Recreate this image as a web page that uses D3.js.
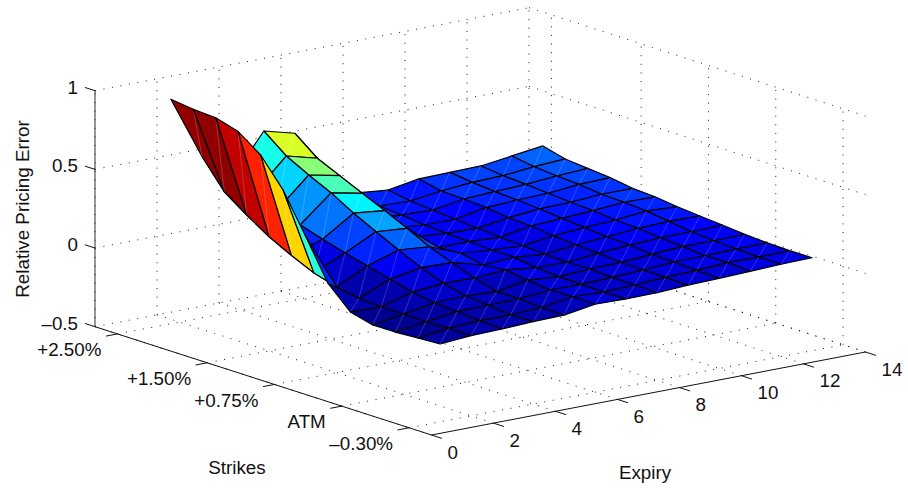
<!DOCTYPE html>
<html>
<head>
<meta charset="utf-8">
<script src="https://cdn.jsdelivr.net/npm/d3@7"></script>
<style>
  html, body { margin: 0; padding: 0; background: #fff; }
  svg { display: block; }
  text { font-family: "Liberation Sans", Arial, sans-serif; fill: #111; }
</style>
</head>
<body>
<div id="chart"></div>
<script>
const expiries = [1, 2, 3, 4, 5, 6, 7, 8, 9, 10, 11, 12, 13];
const strikes = [1, 2, 3, 4, 5, 6, 7, 8, 9, 10, 11, 12, 13];

const expiryTicks = [0, 2, 4, 6, 8, 10, 12, 14];
const strikeTicks = [14, 10, 7, 4, 1];
const strikeLabels = ["+2.50%", "+1.50%", "+0.75%", "ATM", "\u20130.30%"];
const zTicks = [-0.5, 0, 0.5, 1];
const zLabels = ["\u20130.5", "0", "0.5", "1"];

// one row per expiry (1 to 13), one value per strike position (1 to 13)
const errorByExpiry = [
  [-0.005, -0.013, -0.021, -0.022, 0.015, 0.152, 0.406, 0.653, 0.829, 0.932, 0.974, 0.982, 1.0],
  [0.01, 0.011, 0.007, 0.01, 0.01, 0.018, 0.046, 0.087, 0.152, 0.226, 0.318, 0.42, 0.6],
  [0.015, 0.022, 0.033, 0.044, 0.066, 0.101, 0.14, 0.176, 0.218, 0.263, 0.316, 0.381, 0.43],
  [0.024, 0.02, 0.038, 0.049, 0.084, 0.138, 0.204, 0.274, 0.346, 0.429, 0.497, 0.572, 0.685],
  [0.028, 0.03, 0.04, 0.039, 0.08, 0.132, 0.187, 0.258, 0.325, 0.389, 0.455, 0.52, 0.633],
  [0.059, 0.061, 0.058, 0.075, 0.093, 0.079, 0.108, 0.098, 0.121, 0.13, 0.14, 0.15, 0.17],
  [0.055, 0.053, 0.056, 0.059, 0.07, 0.09, 0.091, 0.098, 0.105, 0.112, 0.13, 0.141, 0.178],
  [0.057, 0.06, 0.063, 0.07, 0.067, 0.072, 0.08, 0.088, 0.1, 0.111, 0.124, 0.135, 0.159],
  [0.068, 0.071, 0.072, 0.075, 0.086, 0.093, 0.106, 0.122, 0.129, 0.147, 0.156, 0.161, 0.192],
  [0.073, 0.078, 0.085, 0.088, 0.101, 0.108, 0.12, 0.133, 0.147, 0.158, 0.165, 0.178, 0.196],
  [0.08, 0.089, 0.087, 0.099, 0.11, 0.124, 0.131, 0.144, 0.152, 0.163, 0.174, 0.183, 0.199],
  [0.087, 0.087, 0.092, 0.099, 0.11, 0.13, 0.15, 0.16, 0.165, 0.182, 0.189, 0.2025, 0.225],
  [0.091, 0.09, 0.094, 0.102, 0.115, 0.127, 0.14, 0.157, 0.165, 0.187, 0.2, 0.214, 0.251]
];

const width = 908;
const height = 489;

// the box is an orthographic view: each data axis is a straight screen offset
const origin = { x: 431.5, y: 435 };
const exX = d3.scaleLinear().domain([0, 14]).range([0, 434]);
const exY = d3.scaleLinear().domain([0, 14]).range([0, -83]);
const stX = d3.scaleLinear().domain([0, 15]).range([0, -336.5]);
const stY = d3.scaleLinear().domain([0, 15]).range([0, -108.3]);
const zY = d3.scaleLinear().domain([-0.5, 1]).range([0, -236]);

const px = (e, s) => origin.x + exX(e) + stX(s);
const py = (e, s, z) => origin.y + exY(e) + stY(s) + zY(z);
const pt = (e, s, z) => [px(e, s), py(e, s, z)];

// jet colormap
const allZ = errorByExpiry.flat();
const jetStops = [0, 0.125, 0.375, 0.625, 0.875, 1];
const jetColors = ["#000090", "#0000ff", "#00ffff", "#ffff00", "#ff0000", "#800000"];
const zNorm = d3.scaleLinear().domain(d3.extent(allZ)).range([0, 1]);
const jet = d3.scaleLinear().domain(jetStops).range(jetColors);
const faceColor = z => jet(Math.floor(zNorm(z) * 63.999) / 63);

const svg = d3.select("#chart").append("svg")
  .attr("width", width)
  .attr("height", height);

const seg = (g, a, b, cls) => g.append("line")
  .attr("x1", a[0]).attr("y1", a[1])
  .attr("x2", b[0]).attr("y2", b[1])
  .attr("class", cls);

// Grid
const grid = svg.append("g")
  .attr("fill", "none")
  .attr("stroke", "#000")
  .attr("stroke-width", 0.9)
  .attr("stroke-dasharray", "1 7.6");

expiryTicks.forEach(e => {
  seg(grid, pt(e, 0, -0.5), pt(e, 15, -0.5));
  seg(grid, pt(e, 15, -0.5), pt(e, 15, 1));
});
strikeTicks.forEach(s => {
  seg(grid, pt(0, s, -0.5), pt(14, s, -0.5));
  seg(grid, pt(14, s, -0.5), pt(14, s, 1));
});
zTicks.forEach(z => {
  seg(grid, pt(0, 15, z), pt(14, 15, z));
  seg(grid, pt(14, 15, z), pt(14, 0, z));
});

// Surface, drawn far to near so the front faces cover the back ones
const surface = svg.append("g");
for (let i = expiries.length - 2; i >= 0; i--) {
  for (let j = strikes.length - 2; j >= 0; j--) {
    const e0 = expiries[i], e1 = expiries[i + 1];
    const s0 = strikes[j], s1 = strikes[j + 1];
    const corners = [
      pt(e0, s0, errorByExpiry[i][j]),
      pt(e1, s0, errorByExpiry[i + 1][j]),
      pt(e1, s1, errorByExpiry[i + 1][j + 1]),
      pt(e0, s1, errorByExpiry[i][j + 1])
    ];
    surface.append("polygon")
      .attr("points", corners.map(c => c.join(",")).join(" "))
      .attr("fill", faceColor(errorByExpiry[i][j]))
      .attr("stroke", "#000")
      .attr("stroke-width", 1.2)
      .attr("stroke-linejoin", "round");
    // faint seam left where the quad was split in two triangles
    surface.append("line")
      .attr("x1", corners[0][0]).attr("y1", corners[0][1])
      .attr("x2", corners[2][0]).attr("y2", corners[2][1])
      .attr("stroke", "#fff")
      .attr("stroke-opacity", 0.28)
      .attr("stroke-width", 0.7);
  }
}

// Axes
const axes = svg.append("g")
  .attr("stroke", "#111")
  .attr("stroke-width", 1)
  .attr("fill", "none");

seg(axes, pt(0, 15, -0.5), pt(0, 0, -0.5));
seg(axes, pt(0, 0, -0.5), pt(14, 0, -0.5));
seg(axes, pt(0, 15, -0.5), pt(0, 15, 1)).attr("stroke", "#333");

const labels = svg.append("g").attr("font-size", 18.8);

expiryTicks.forEach(e => {
  const a = pt(e, 0, -0.5);
  seg(axes, a, pt(e, -0.47, -0.5));
  labels.append("text")
    .attr("x", a[0] + 16)
    .attr("y", a[1] + 17)
    .attr("dy", "0.35em")
    .text(e);
});

strikeTicks.forEach((s, i) => {
  const a = pt(0, s, -0.5);
  seg(axes, a, pt(-0.37, s, -0.5));
  labels.append("text")
    .attr("x", a[0] - 16)
    .attr("y", a[1] + 15.5)
    .attr("dy", "0.35em")
    .attr("text-anchor", "end")
    .text(strikeLabels[i]);
});

zTicks.forEach((z, i) => {
  const a = pt(0, 15, z);
  seg(axes, a, pt(0, 15.45, z));
  labels.append("text")
    .attr("x", a[0] - 17)
    .attr("y", a[1] - 3.5)
    .attr("dy", "0.35em")
    .attr("text-anchor", "end")
    .text(zLabels[i]);
});

labels.append("text")
  .attr("x", 237).attr("y", 467)
  .attr("dy", "0.35em")
  .attr("text-anchor", "middle")
  .text("Strikes");

labels.append("text")
  .attr("x", 645).attr("y", 472)
  .attr("dy", "0.35em")
  .attr("text-anchor", "middle")
  .text("Expiry");

labels.append("text")
  .attr("transform", "translate(22,209) rotate(-90)")
  .attr("dy", "0.35em")
  .attr("text-anchor", "middle")
  .text("Relative Pricing Error");
</script>
</body>
</html>
